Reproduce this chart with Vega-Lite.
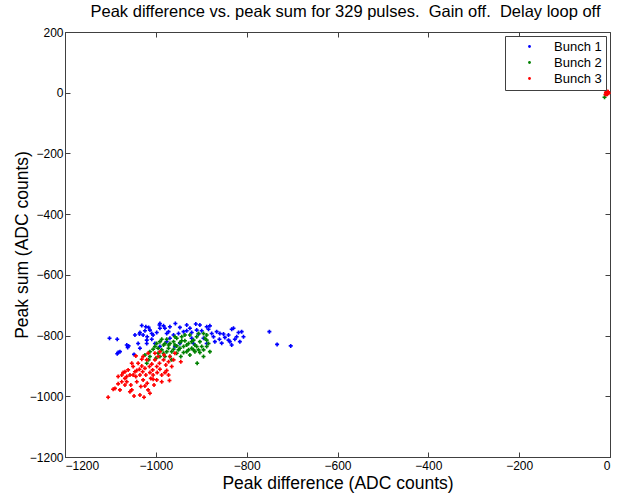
{
  "$schema": "https://vega.github.io/schema/vega-lite/v6.json",
  "width": 545,
  "height": 425,
  "autosize": {"type": "none"},
  "padding": {"left": 65, "top": 32, "right": 15, "bottom": 38},
  "background": "white",
  "config": {
    "font": "Liberation Sans",
    "view": {"stroke": "#404040", "strokeWidth": 1},
    "axis": {"grid": false, "domainColor": "#404040", "tickColor": "#404040", "labelColor": "black", "titleColor": "black", "labelFont": "Liberation Sans", "titleFont": "Liberation Sans", "labelFontSize": 12, "titleFontSize": 17.5, "titleFontWeight": "normal", "tickSize": -5, "format": "d"}
  },
  "title": {"text": "Peak difference vs. peak sum for 329 pulses.\u00a0 Gain off.\u00a0 Delay loop off", "fontSize": 16.5, "fontWeight": "normal", "font": "Liberation Sans", "offset": 6, "dx": 8, "color": "black"},
  "data": {"values": [
    {"b":"Bunch 1","x":-1102,"y":-809},{"b":"Bunch 1","x":-1085,"y":-812},{"b":"Bunch 1","x":-1083,"y":-856},{"b":"Bunch 1","x":-1079,"y":-853},{"b":"Bunch 1","x":-1085,"y":-860},{"b":"Bunch 1","x":-1064,"y":-831},{"b":"Bunch 1","x":-1060,"y":-834},{"b":"Bunch 1","x":-1062,"y":-839},{"b":"Bunch 1","x":-1048,"y":-862},{"b":"Bunch 1","x":-1046,"y":-798},{"b":"Bunch 1","x":-1036,"y":-795},{"b":"Bunch 1","x":-1035,"y":-790},{"b":"Bunch 1","x":-1031,"y":-767},{"b":"Bunch 1","x":-1022,"y":-771},{"b":"Bunch 1","x":-1016,"y":-773},{"b":"Bunch 1","x":-1013,"y":-782},{"b":"Bunch 1","x":-1028,"y":-798},{"b":"Bunch 1","x":-1019,"y":-804},{"b":"Bunch 1","x":-1009,"y":-812},{"b":"Bunch 1","x":-1006,"y":-798},{"b":"Bunch 1","x":-998,"y":-790},{"b":"Bunch 1","x":-992,"y":-765},{"b":"Bunch 1","x":-991,"y":-776},{"b":"Bunch 1","x":-983,"y":-768},{"b":"Bunch 1","x":-980,"y":-776},{"b":"Bunch 1","x":-976,"y":-793},{"b":"Bunch 1","x":-972,"y":-787},{"b":"Bunch 1","x":-969,"y":-809},{"b":"Bunch 1","x":-957,"y":-760},{"b":"Bunch 1","x":-961,"y":-798},{"b":"Bunch 1","x":-950,"y":-793},{"b":"Bunch 1","x":-947,"y":-773},{"b":"Bunch 1","x":-939,"y":-787},{"b":"Bunch 1","x":-932,"y":-784},{"b":"Bunch 1","x":-925,"y":-776},{"b":"Bunch 1","x":-921,"y":-790},{"b":"Bunch 1","x":-912,"y":-762},{"b":"Bunch 1","x":-910,"y":-782},{"b":"Bunch 1","x":-906,"y":-795},{"b":"Bunch 1","x":-899,"y":-784},{"b":"Bunch 1","x":-888,"y":-771},{"b":"Bunch 1","x":-884,"y":-779},{"b":"Bunch 1","x":-881,"y":-768},{"b":"Bunch 1","x":-877,"y":-793},{"b":"Bunch 1","x":-873,"y":-804},{"b":"Bunch 1","x":-866,"y":-787},{"b":"Bunch 1","x":-860,"y":-812},{"b":"Bunch 1","x":-855,"y":-825},{"b":"Bunch 1","x":-851,"y":-795},{"b":"Bunch 1","x":-848,"y":-806},{"b":"Bunch 1","x":-840,"y":-798},{"b":"Bunch 1","x":-837,"y":-820},{"b":"Bunch 1","x":-833,"y":-779},{"b":"Bunch 1","x":-829,"y":-776},{"b":"Bunch 1","x":-826,"y":-812},{"b":"Bunch 1","x":-822,"y":-804},{"b":"Bunch 1","x":-818,"y":-790},{"b":"Bunch 1","x":-815,"y":-820},{"b":"Bunch 1","x":-811,"y":-787},{"b":"Bunch 1","x":-807,"y":-804},{"b":"Bunch 1","x":-750,"y":-787},{"b":"Bunch 1","x":-733,"y":-829},{"b":"Bunch 1","x":-703,"y":-834},{"b":"Bunch 1","x":-1035,"y":-842},{"b":"Bunch 1","x":-1020,"y":-815},{"b":"Bunch 1","x":-1002,"y":-826},{"b":"Bunch 1","x":-991,"y":-836},{"b":"Bunch 1","x":-976,"y":-820},{"b":"Bunch 1","x":-958,"y":-836},{"b":"Bunch 1","x":-947,"y":-826},{"b":"Bunch 1","x":-1039,"y":-826},{"b":"Bunch 1","x":-991,"y":-760},{"b":"Bunch 1","x":-969,"y":-771},{"b":"Bunch 1","x":-1020,"y":-826},{"b":"Bunch 1","x":-921,"y":-809},{"b":"Bunch 1","x":-917,"y":-826},{"b":"Bunch 1","x":-895,"y":-809},{"b":"Bunch 1","x":-888,"y":-826},{"b":"Bunch 1","x":-870,"y":-820},{"b":"Bunch 1","x":-840,"y":-815},{"b":"Bunch 1","x":-833,"y":-831},{"b":"Bunch 1","x":-859,"y":-793},{"b":"Bunch 1","x":-903,"y":-765},{"b":"Bunch 1","x":-932,"y":-765},{"b":"Bunch 1","x":-1009,"y":-793},{"b":"Bunch 1","x":-1024,"y":-784},{"b":"Bunch 1","x":-5,"y":0},{"b":"Bunch 1","x":-7,"y":-3},
    {"b":"Bunch 2","x":-1024,"y":-864},{"b":"Bunch 2","x":-1016,"y":-880},{"b":"Bunch 2","x":-1013,"y":-853},{"b":"Bunch 2","x":-1006,"y":-845},{"b":"Bunch 2","x":-1002,"y":-836},{"b":"Bunch 2","x":-998,"y":-826},{"b":"Bunch 2","x":-995,"y":-858},{"b":"Bunch 2","x":-991,"y":-820},{"b":"Bunch 2","x":-987,"y":-847},{"b":"Bunch 2","x":-983,"y":-831},{"b":"Bunch 2","x":-980,"y":-869},{"b":"Bunch 2","x":-976,"y":-812},{"b":"Bunch 2","x":-972,"y":-842},{"b":"Bunch 2","x":-969,"y":-826},{"b":"Bunch 2","x":-965,"y":-853},{"b":"Bunch 2","x":-961,"y":-820},{"b":"Bunch 2","x":-958,"y":-831},{"b":"Bunch 2","x":-954,"y":-809},{"b":"Bunch 2","x":-950,"y":-847},{"b":"Bunch 2","x":-947,"y":-823},{"b":"Bunch 2","x":-943,"y":-804},{"b":"Bunch 2","x":-939,"y":-836},{"b":"Bunch 2","x":-936,"y":-817},{"b":"Bunch 2","x":-932,"y":-853},{"b":"Bunch 2","x":-928,"y":-826},{"b":"Bunch 2","x":-925,"y":-798},{"b":"Bunch 2","x":-921,"y":-842},{"b":"Bunch 2","x":-917,"y":-815},{"b":"Bunch 2","x":-914,"y":-831},{"b":"Bunch 2","x":-910,"y":-804},{"b":"Bunch 2","x":-909,"y":-891},{"b":"Bunch 2","x":-906,"y":-847},{"b":"Bunch 2","x":-903,"y":-820},{"b":"Bunch 2","x":-899,"y":-836},{"b":"Bunch 2","x":-895,"y":-869},{"b":"Bunch 2","x":-892,"y":-809},{"b":"Bunch 2","x":-888,"y":-798},{"b":"Bunch 2","x":-884,"y":-826},{"b":"Bunch 2","x":-881,"y":-853},{"b":"Bunch 2","x":-1000,"y":-875},{"b":"Bunch 2","x":-991,"y":-869},{"b":"Bunch 2","x":-983,"y":-858},{"b":"Bunch 2","x":-976,"y":-853},{"b":"Bunch 2","x":-969,"y":-869},{"b":"Bunch 2","x":-961,"y":-845},{"b":"Bunch 2","x":-954,"y":-858},{"b":"Bunch 2","x":-947,"y":-842},{"b":"Bunch 2","x":-939,"y":-856},{"b":"Bunch 2","x":-932,"y":-831},{"b":"Bunch 2","x":-925,"y":-864},{"b":"Bunch 2","x":-917,"y":-847},{"b":"Bunch 2","x":-910,"y":-836},{"b":"Bunch 2","x":-903,"y":-856},{"b":"Bunch 2","x":-895,"y":-847},{"b":"Bunch 2","x":-888,"y":-836},{"b":"Bunch 2","x":-1013,"y":-869},{"b":"Bunch 2","x":-954,"y":-834},{"b":"Bunch 2","x":-943,"y":-817},{"b":"Bunch 2","x":-921,"y":-820},{"b":"Bunch 2","x":-936,"y":-798},{"b":"Bunch 2","x":-928,"y":-847},{"b":"Bunch 2","x":-972,"y":-831},{"b":"Bunch 2","x":-987,"y":-812},{"b":"Bunch 2","x":-995,"y":-842},{"b":"Bunch 2","x":-980,"y":-826},{"b":"Bunch 2","x":-906,"y":-793},{"b":"Bunch 2","x":-895,"y":-793},{"b":"Bunch 2","x":-888,"y":-815},{"b":"Bunch 2","x":-958,"y":-804},{"b":"Bunch 2","x":-914,"y":-853},{"b":"Bunch 2","x":-1020,"y":-891},{"b":"Bunch 2","x":-965,"y":-880},{"b":"Bunch 2","x":-945,"y":-869},{"b":"Bunch 2","x":-6,"y":-2},{"b":"Bunch 2","x":-12,"y":-15},
    {"b":"Bunch 3","x":-1105,"y":-1003},{"b":"Bunch 3","x":-1094,"y":-977},{"b":"Bunch 3","x":-1090,"y":-974},{"b":"Bunch 3","x":-1083,"y":-959},{"b":"Bunch 3","x":-1079,"y":-979},{"b":"Bunch 3","x":-1075,"y":-930},{"b":"Bunch 3","x":-1072,"y":-922},{"b":"Bunch 3","x":-1068,"y":-941},{"b":"Bunch 3","x":-1064,"y":-952},{"b":"Bunch 3","x":-1061,"y":-913},{"b":"Bunch 3","x":-1057,"y":-930},{"b":"Bunch 3","x":-1055,"y":-963},{"b":"Bunch 3","x":-1053,"y":-979},{"b":"Bunch 3","x":-1050,"y":-902},{"b":"Bunch 3","x":-1048,"y":-999},{"b":"Bunch 3","x":-1046,"y":-919},{"b":"Bunch 3","x":-1044,"y":-935},{"b":"Bunch 3","x":-1042,"y":-952},{"b":"Bunch 3","x":-1039,"y":-891},{"b":"Bunch 3","x":-1036,"y":-911},{"b":"Bunch 3","x":-1035,"y":-930},{"b":"Bunch 3","x":-1033,"y":-968},{"b":"Bunch 3","x":-1031,"y":-900},{"b":"Bunch 3","x":-1029,"y":-919},{"b":"Bunch 3","x":-1028,"y":-946},{"b":"Bunch 3","x":-1026,"y":-1003},{"b":"Bunch 3","x":-1024,"y":-908},{"b":"Bunch 3","x":-1022,"y":-930},{"b":"Bunch 3","x":-1020,"y":-880},{"b":"Bunch 3","x":-1019,"y":-957},{"b":"Bunch 3","x":-1017,"y":-979},{"b":"Bunch 3","x":-1014,"y":-902},{"b":"Bunch 3","x":-1013,"y":-922},{"b":"Bunch 3","x":-1011,"y":-941},{"b":"Bunch 3","x":-1009,"y":-894},{"b":"Bunch 3","x":-1007,"y":-913},{"b":"Bunch 3","x":-1006,"y":-930},{"b":"Bunch 3","x":-1004,"y":-963},{"b":"Bunch 3","x":-1002,"y":-880},{"b":"Bunch 3","x":-998,"y":-902},{"b":"Bunch 3","x":-997,"y":-922},{"b":"Bunch 3","x":-995,"y":-869},{"b":"Bunch 3","x":-992,"y":-891},{"b":"Bunch 3","x":-991,"y":-911},{"b":"Bunch 3","x":-987,"y":-930},{"b":"Bunch 3","x":-983,"y":-880},{"b":"Bunch 3","x":-982,"y":-864},{"b":"Bunch 3","x":-978,"y":-897},{"b":"Bunch 3","x":-976,"y":-915},{"b":"Bunch 3","x":-972,"y":-886},{"b":"Bunch 3","x":-970,"y":-948},{"b":"Bunch 3","x":-969,"y":-869},{"b":"Bunch 3","x":-965,"y":-902},{"b":"Bunch 3","x":-961,"y":-880},{"b":"Bunch 3","x":-958,"y":-858},{"b":"Bunch 3","x":-945,"y":-886},{"b":"Bunch 3","x":-972,"y":-930},{"b":"Bunch 3","x":-1017,"y":-858},{"b":"Bunch 3","x":-1044,"y":-867},{"b":"Bunch 3","x":-1028,"y":-869},{"b":"Bunch 3","x":-1053,"y":-891},{"b":"Bunch 3","x":-1068,"y":-963},{"b":"Bunch 3","x":-1075,"y":-952},{"b":"Bunch 3","x":-1057,"y":-985},{"b":"Bunch 3","x":-1035,"y":-996},{"b":"Bunch 3","x":-1013,"y":-990},{"b":"Bunch 3","x":-998,"y":-946},{"b":"Bunch 3","x":-987,"y":-952},{"b":"Bunch 3","x":-1083,"y":-935},{"b":"Bunch 3","x":-1064,"y":-935},{"b":"Bunch 3","x":-1042,"y":-915},{"b":"Bunch 3","x":-1024,"y":-966},{"b":"Bunch 3","x":-1006,"y":-944},{"b":"Bunch 3","x":-1031,"y":-878},{"b":"Bunch 3","x":-991,"y":-853},{"b":"Bunch 3","x":-1002,"y":-858},{"b":"Bunch 3","x":-980,"y":-922},{"b":"Bunch 3","x":-1050,"y":-930},{"b":"Bunch 3","x":-1068,"y":-919},
    {"b":"Bunch 3","x":-5,"y":0},{"b":"Bunch 3","x":-8,"y":-3},{"b":"Bunch 3","x":-4,"y":3},{"b":"Bunch 3","x":-10,"y":-6},{"b":"Bunch 3","x":-7,"y":4},{"b":"Bunch 3","x":-9,"y":1},{"b":"Bunch 3","x":-6,"y":-5},{"b":"Bunch 3","x":-3,"y":-2}
  ]},
  "layer": [
    {
      "mark": {"type": "point", "shape": "cross", "filled": true, "size": 16, "opacity": 1},
      "encoding": {
        "x": {"field": "x", "type": "quantitative", "scale": {"domain": [-1200, 0], "nice": false, "zero": false}, "axis": {"values": [-1200, -1000, -800, -600, -400, -200, 0], "title": "Peak difference (ADC counts)", "labelPadding": 8, "titlePadding": 3}},
        "y": {"field": "y", "type": "quantitative", "scale": {"domain": [-1200, 200], "nice": false, "zero": false}, "axis": {"values": [-1200, -1000, -800, -600, -400, -200, 0, 200], "title": "Peak sum (ADC counts)", "labelPadding": 7, "titlePadding": -2}},
        "color": {"field": "b", "type": "nominal", "scale": {"domain": ["Bunch 1", "Bunch 2", "Bunch 3"], "range": ["#0000ff", "#008000", "#ff0000"]}, "legend": {"title": null, "orient": "top-right", "offset": 4, "strokeColor": "#404040", "fillColor": "white", "padding": 4, "symbolType": "circle", "symbolSize": 8, "labelFontSize": 13, "labelFont": "Liberation Sans", "labelColor": "black", "rowPadding": 2, "symbolOffset": 14, "labelOffset": 18, "labelLimit": 200}}
      }
    },
    {
      "mark": {"type": "point", "opacity": 0},
      "encoding": {
        "x": {"field": "x", "type": "quantitative", "scale": {"domain": [-1200, 0], "nice": false, "zero": false}, "axis": {"orient": "top", "values": [-1200, -1000, -800, -600, -400, -200, 0], "labels": false, "title": null, "domain": false}},
        "y": {"field": "y", "type": "quantitative", "scale": {"domain": [-1200, 200], "nice": false, "zero": false}, "axis": {"orient": "right", "values": [-1200, -1000, -800, -600, -400, -200, 0, 200], "labels": false, "title": null, "domain": false}}
      }
    }
  ],
  "resolve": {"axis": {"x": "independent", "y": "independent"}}
}
